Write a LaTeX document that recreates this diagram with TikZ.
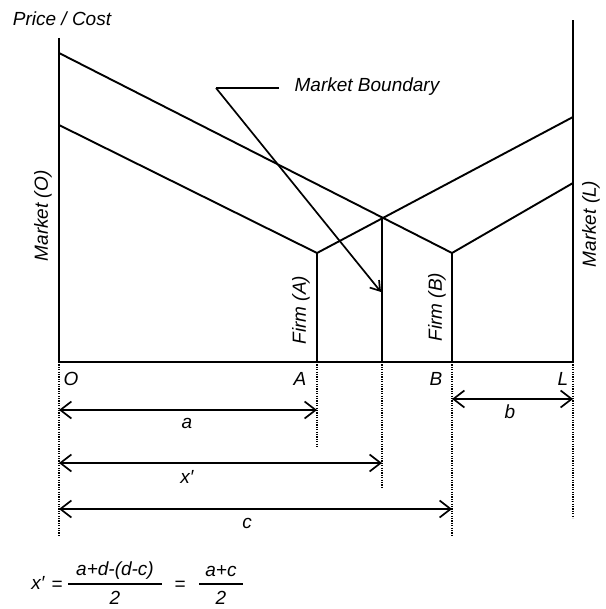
\documentclass[tikz,border=0pt]{standalone}
\usepackage{fontspec}
\setmainfont{Liberation Sans}
\usetikzlibrary{arrows.meta}
\begin{document}
\begin{tikzpicture}[x=1pt,y=-1pt,
  lbl/.style={font=\fontsize{19}{22}\selectfont\itshape, inner sep=0pt},
  axisline/.style={line width=2pt},
  priceline/.style={line width=1.9pt},
  guide/.style={line width=1.4pt, dash pattern=on 1.2pt off 1.2pt},
  tipb/.tip={Straight Barb[length=11pt,width=17pt]},
  dimline/.style={line width=1.7pt, tipb-tipb},
  pointer/.style={line width=1.7pt, -{Straight Barb[length=9pt,width=12pt]}},
  fracbar/.style={line width=1.4pt}
]
\useasboundingbox (0,0) rectangle (605,609);
% key points
\coordinate (Otop) at (59,38);
\coordinate (O) at (59,362);
\coordinate (Ltop) at (573,20);
\coordinate (L) at (573,362);
\coordinate (A) at (317,362);
\coordinate (Atop) at (317,253);
\coordinate (X) at (382,362);
\coordinate (Xtop) at (382,217);
\coordinate (B) at (452,362);
\coordinate (Btop) at (452,253);
\coordinate (Ohigh) at (59,53);
\coordinate (Olow) at (59,125);
\coordinate (Lhigh) at (573,117);
\coordinate (Llow) at (573,183);
% axes
\draw[axisline] (Otop) -- (O) -- (L) -- (Ltop);
% firms and boundary
\draw[priceline] (A) -- (Atop);
\draw[priceline] (B) -- (Btop);
\draw[priceline] (X) -- (Xtop);
% delivered price lines
\draw[priceline] (Ohigh) -- (Btop) -- (Llow);
\draw[priceline] (Olow) -- (Atop) -- (Lhigh);
% market boundary label
\node[lbl] (mb) at (367,87) {Market Boundary};
\coordinate (corner) at (216,88);
\coordinate (leadend) at (279,88);
\coordinate (arrowtip) at (381,292);
\draw[priceline] (leadend) -- (corner);
\draw[pointer] (corner) -- (arrowtip);
% axis labels
\node[lbl] (pc) at (62,19) {Price / Cost};
\node[lbl, rotate=90] (mo) at (43,216) {Market (O)};
\node[lbl, rotate=90] (ml) at (591,224) {Market (L)};
\node[lbl, rotate=90] (fa) at (301,310) {Firm (A)};
\node[lbl, rotate=90] (fb) at (437,307) {Firm (B)};
% point labels
\node[lbl] (lo) at (71,379) {O};
\node[lbl] (la) at (300,379) {A};
\node[lbl] (lb) at (436,379) {B};
\node[lbl] (ll) at (563,379) {L};
% guide lines
\coordinate (gO) at (59,535);
\coordinate (gA) at (317,448);
\coordinate (gX) at (382,487);
\coordinate (gB) at (452,537);
\coordinate (gL) at (573,518);
\draw[guide] (O) -- (gO);
\draw[guide] (A) -- (gA);
\draw[guide] (X) -- (gX);
\draw[guide] (B) -- (gB);
\draw[guide] (L) -- (gL);
% dimension arrows
\coordinate (a1) at (59,410);
\coordinate (a2) at (317,410);
\coordinate (b1) at (452,399);
\coordinate (b2) at (573,399);
\coordinate (x1) at (59,463);
\coordinate (x2) at (382,463);
\coordinate (c1) at (59,509);
\coordinate (c2) at (452,509);
\draw[dimline] (a1) -- (a2);
\draw[dimline] (b1) -- (b2);
\draw[dimline] (x1) -- (x2);
\draw[dimline] (c1) -- (c2);
\node[lbl] (da) at (187,423) {a};
\node[lbl] (db) at (510,412) {b};
\node[lbl] (dx) at (187,477) {x′};
\node[lbl] (dc) at (247,523) {c};
% formula
\node[lbl] (fx) at (38,583) {x′};
\node[lbl] (fe1) at (57,586) {=};
\node[lbl] (fn1) at (115,571) {a+d-(d-c)};
\coordinate (bar1l) at (68,584);
\coordinate (bar1r) at (162,584);
\draw[fracbar] (bar1l) -- (bar1r);
\node[lbl] (fd1) at (115,598) {2};
\node[lbl] (fe2) at (180,586) {=};
\node[lbl] (fn2) at (221,571) {a+c};
\coordinate (bar2l) at (199,584);
\coordinate (bar2r) at (243,584);
\draw[fracbar] (bar2l) -- (bar2r);
\node[lbl] (fd2) at (221,598) {2};
\end{tikzpicture}
\end{document}
